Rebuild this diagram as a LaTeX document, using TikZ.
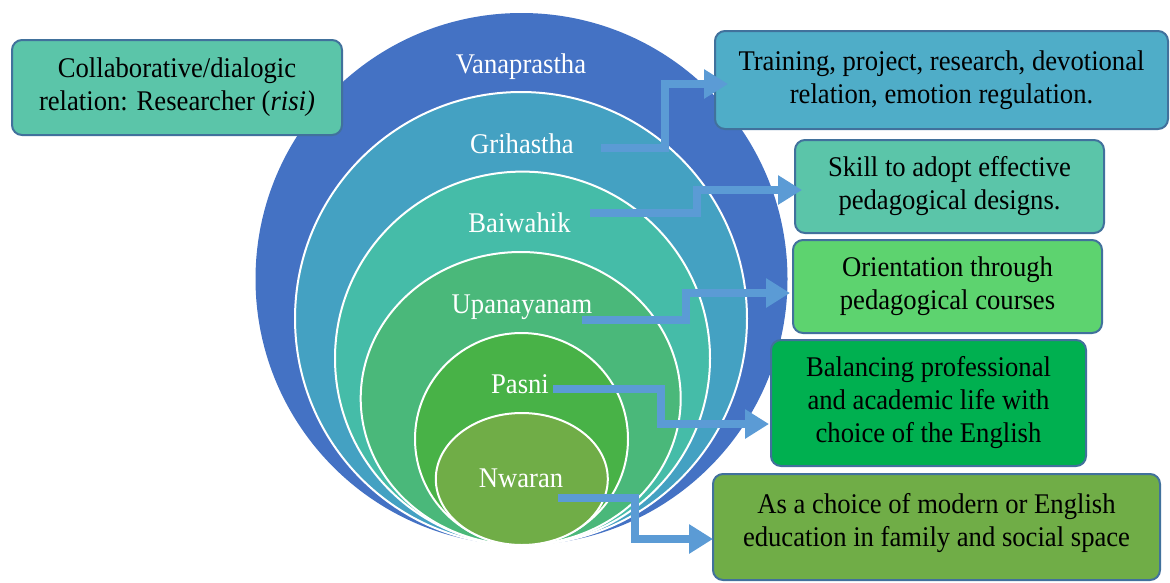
\documentclass[tikz,border=0pt]{standalone}
\usepackage{fontspec}
\setmainfont{Liberation Serif}[FakeStretch=0.935]
\usetikzlibrary{arrows.meta}

% stage colours
\definecolor{ringA}{HTML}{4472C4}
\definecolor{ringB}{HTML}{44A1C2}
\definecolor{ringC}{HTML}{45BCA8}
\definecolor{ringD}{HTML}{4AB87A}
\definecolor{ringE}{HTML}{48B247}
\definecolor{ringF}{HTML}{70AD47}
% box colours
\definecolor{boxedge}{HTML}{41719C}
\definecolor{boxTeal}{HTML}{5BC5A9}
\definecolor{boxBlue}{HTML}{4FADC8}
\definecolor{boxLime}{HTML}{5DD36F}
\definecolor{boxGreen}{HTML}{00B050}
\definecolor{boxOlive}{HTML}{70AD47}
\definecolor{arrowblue}{HTML}{5B9BD5}

\begin{document}
\begin{tikzpicture}[x=1pt,y=-1pt,
  ring/.style={draw=white, line width=2pt},
  ringlabel/.style={text=white, font=\fontsize{28.5}{33}\selectfont, anchor=base, inner sep=0pt},
  infobox/.style={draw=boxedge, line width=2pt, rounded corners=10pt, align=center,
    font=\fontsize{28.5}{33}\selectfont, text=black, inner sep=0pt},
  boxtext/.style={align=center, font=\fontsize{28.5}{33}\selectfont, text=black, inner sep=0pt},
  conn/.style={draw=arrowblue, line width=7.5pt, line join=miter,
    -{Triangle[width=28pt,length=24pt]}}
]
\useasboundingbox (0,0) rectangle (1170,582);

% nested stages
\fill[ringA] (521.5,279) ellipse [x radius=266pt, y radius=266pt];
\filldraw[ringB, ring] (521,318.5) ellipse [x radius=226pt, y radius=226.5pt];
\filldraw[ringC, ring] (522.5,358.3) ellipse [x radius=187.5pt, y radius=186.7pt];
\filldraw[ringD, ring] (520.7,398.5) ellipse [x radius=160pt, y radius=146.5pt];
\filldraw[ringE, ring] (521.5,439) ellipse [x radius=106.5pt, y radius=106pt];
\filldraw[ringF, ring] (521.8,479) ellipse [x radius=86pt, y radius=66pt];

% stage names
\node[ringlabel] (v) at (521,73) {Vanaprastha};
\node[ringlabel] (g) at (522,153) {Grihastha};
\node[ringlabel] (b) at (519.5,232) {Baiwahik};
\node[ringlabel] (u) at (522,313) {Upanayanam};
\node[ringlabel] (p) at (520,393) {Pasni};
\node[ringlabel] (n) at (521,487) {Nwaran};

% description boxes
\node[infobox, fill=boxTeal, minimum width=330pt, minimum height=95pt] (bl) at (177,87.5)
  {Collaborative/dialogic\\relation: Researcher (\textit{risi)}};
\node[infobox, fill=boxBlue, minimum width=453pt, minimum height=98pt] (b1) at (941.5,80)
  {Training, project, research, devotional\\relation, emotion regulation.};
\node[infobox, fill=boxTeal, minimum width=309pt, minimum height=93pt] (b2) at (949.5,186.5)
  {Skill to adopt effective\\pedagogical designs.};
\node[infobox, fill=boxLime, minimum width=309pt, minimum height=93pt] (b3) at (947.5,286.5)
  {Orientation through\\pedagogical courses};
\node[infobox, fill=boxGreen, minimum width=315pt, minimum height=126pt] (b4) at (928.5,403)
  {Balancing professional\\and academic life with\\choice of the English};
\node[infobox, fill=boxOlive, minimum width=447pt, minimum height=106pt] (b5) at (936.5,527) {};
\node[boxtext] (b5t) at ([yshift=3.5pt]b5.center)
  {As a choice of modern or English\\education in family and social space};

% connector starts beside the stage names
\coordinate (g-out) at (601,148);
\coordinate (b-out) at (590,213);
\coordinate (u-out) at (582,320);
\coordinate (p-out) at (553,389);
\coordinate (n-out) at (558,498);

% elbow connectors
\draw[conn] (g-out) -- ++(64,0) |- ([xshift=14pt,yshift=-4pt]b1.west);
\draw[conn] (b-out) -- ++(107,0) |- ([xshift=8pt,yshift=-3.5pt]b2.west);
\draw[conn] (u-out) -- ++(104,0) |- ([xshift=-2pt,yshift=-6.5pt]b3.west);
\draw[conn] (p-out) -- ++(108,0) |- ([xshift=-1pt,yshift=-21pt]b4.west);
\draw[conn] (n-out) -- ++(77,0) |- ([xshift=1pt,yshift=-12pt]b5.west);
\end{tikzpicture}
\end{document}
